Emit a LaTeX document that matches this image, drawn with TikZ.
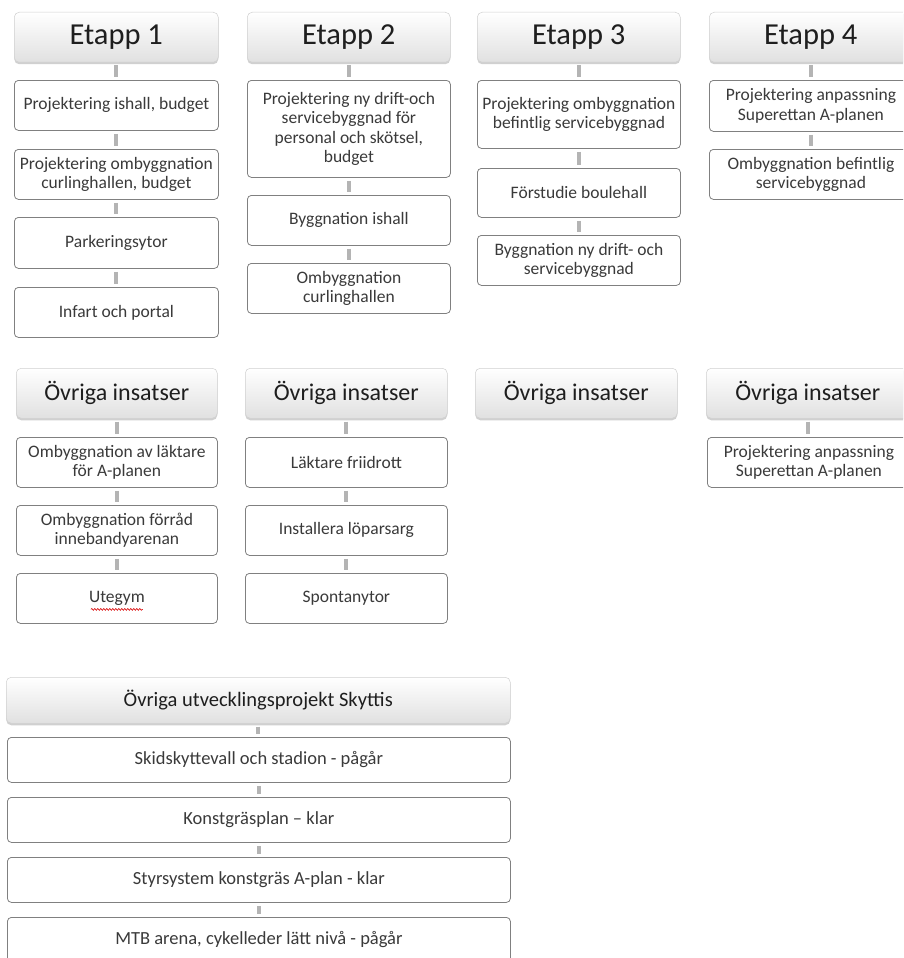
\documentclass[tikz,border=0pt]{standalone}
\usepackage{fontspec}
\setmainfont{Carlito}
\usetikzlibrary{shadows,decorations.pathmorphing}
\definecolor{boxline}{HTML}{808080}
\definecolor{hdrline}{HTML}{D0D0D0}
\definecolor{txt}{HTML}{3A3A3A}
\definecolor{hdrtxt}{HTML}{1E1E1E}
\definecolor{connc}{HTML}{B4B4B4}
\tikzset{
  hdr/.style={anchor=north west, rounded corners=5pt, draw=hdrline, line width=0.5pt,
    top color=white, bottom color=black!12, text=hdrtxt, inner sep=0pt,
    drop shadow={shadow xshift=0pt, shadow yshift=-2pt, opacity=0.3, fill=black!60}},
  bigh/.style={hdr, font=\fontsize{30.5}{34}\selectfont},
  midh/.style={hdr, font=\fontsize{24}{28}\selectfont},
  longh/.style={hdr, font=\fontsize{20.5}{24}\selectfont},
  itembox/.style={anchor=north west, rounded corners=4pt, draw=boxline, line width=0.8pt,
    fill=white, text=txt, align=center, inner sep=0pt, font=\fontsize{17.5}{19.5}\selectfont},
  wideitem/.style={itembox, font=\fontsize{18.5}{21}\selectfont},
  conn/.style={draw=connc, line width=4pt},
  spell/.style={draw=red!85!black, line width=0.6pt, decorate,
    decoration={snake, amplitude=0.9pt, segment length=3pt}}
}
\begin{document}
\begin{tikzpicture}[x=1pt, y=-1pt]
\useasboundingbox (0,0) rectangle (903,958);
\fill[white] (0,0) rectangle (903,958);
\clip (0,0) rectangle (903,958);

% ---- Row 1 ----
% Column 1
\node[bigh, minimum width=204pt, minimum height=50pt] (e1) at (14,12) {Etapp 1};
\node[itembox, minimum width=204pt, minimum height=50pt] (a1) at (14,80) {Projektering ishall, budget};
\node[itembox, minimum width=204pt, minimum height=50pt] (a2) at (14,149) {Projektering ombyggnation\\curlinghallen, budget};
\node[itembox, minimum width=204pt, minimum height=51pt] (a3) at (14,217) {Parkeringsytor};
\node[itembox, minimum width=204pt, minimum height=50pt] (a4) at (14,287) {Infart och portal};
% Column 2
\node[bigh, minimum width=203pt, minimum height=50pt] (e2) at (247,12) {Etapp 2};
\node[itembox, minimum width=203pt, minimum height=97pt] (b1) at (247,80) {Projektering ny drift-och\\servicebyggnad för\\personal och skötsel,\\budget};
\node[itembox, minimum width=203pt, minimum height=50pt] (b2) at (247,195) {Byggnation ishall};
\node[itembox, minimum width=203pt, minimum height=50pt] (b3) at (247,263) {Ombyggnation\\curlinghallen};
% Column 3
\node[bigh, minimum width=203pt, minimum height=50pt] (e3) at (477,12) {Etapp 3};
\node[itembox, minimum width=203pt, minimum height=68pt] (c1) at (477,80) {Projektering ombyggnation\\befintlig servicebyggnad};
\node[itembox, minimum width=203pt, minimum height=49pt] (c2) at (477,168) {Förstudie boulehall};
\node[itembox, minimum width=203pt, minimum height=50pt] (c3) at (477,235) {Byggnation ny drift- och\\servicebyggnad};
% Column 4
\node[bigh, minimum width=203pt, minimum height=50pt] (e4) at (709,12) {Etapp 4};
\node[itembox, minimum width=203pt, minimum height=51pt] (d1) at (709,80) {Projektering anpassning\\Superettan A-planen};
\node[itembox, minimum width=203pt, minimum height=50pt] (d2) at (709,149) {Ombyggnation befintlig\\servicebyggnad};

% ---- Row 2 ----
\node[midh, minimum width=201pt, minimum height=50pt] (o1) at (16,368) {Övriga insatser};
\node[itembox, minimum width=201pt, minimum height=50pt] (p1) at (16,437) {Ombyggnation av läktare\\för A-planen};
\node[itembox, minimum width=201pt, minimum height=50pt] (p2) at (16,505) {Ombyggnation förråd\\innebandyarenan};
\node[itembox, minimum width=201pt, minimum height=50pt] (p3) at (16,573) {Utegym};

\node[midh, minimum width=202pt, minimum height=50pt] (o2) at (245,368) {Övriga insatser};
\node[itembox, minimum width=202pt, minimum height=50pt] (q1) at (245,437) {Läktare friidrott};
\node[itembox, minimum width=202pt, minimum height=50pt] (q2) at (245,505) {Installera löparsarg};
\node[itembox, minimum width=202pt, minimum height=50pt] (q3) at (245,573) {Spontanytor};

\node[midh, minimum width=202pt, minimum height=50pt] (o3) at (475,368) {Övriga insatser};

\node[midh, minimum width=203pt, minimum height=50pt] (o4) at (706,368) {Övriga insatser};
\node[itembox, minimum width=203pt, minimum height=50pt] (r1) at (707,437) {Projektering anpassning\\Superettan A-planen};

% ---- Row 3 ----
\node[longh, minimum width=504pt, minimum height=46pt] (s0) at (6,677) {Övriga utvecklingsprojekt Skyttis};
\node[wideitem, minimum width=503pt, minimum height=45pt] (s1) at (7,737) {Skidskyttevall och stadion - pågår};
\node[wideitem, minimum width=503pt, minimum height=45pt] (s2) at (7,797) {Konstgräsplan – klar};
\node[wideitem, minimum width=503pt, minimum height=45pt] (s3) at (7,857) {Styrsystem konstgräs A-plan - klar};
\node[wideitem, minimum width=503pt, minimum height=45pt] (s4) at (7,917) {MTB arena, cykelleder lätt nivå - pågår};

% ---- Connectors ----
\foreach \u/\v in {e1/a1,a1/a2,a2/a3,a3/a4,e2/b1,b1/b2,b2/b3,e3/c1,c1/c2,c2/c3,e4/d1,d1/d2,
  o1/p1,p1/p2,p2/p3,o2/q1,q1/q2,q2/q3,o4/r1,s0/s1,s1/s2,s2/s3,s3/s4}
  \draw[conn] ([yshift=-3pt]\u.south) -- ([yshift=3pt]\u.south |- \v.north);

% spell-check underline under "Utegym"
\coordinate (sp1) at ([xshift=-26pt,yshift=-11pt]p3.center);
\coordinate (sp2) at ([xshift=26pt,yshift=-11pt]p3.center);
\draw[spell] (sp1) -- (sp2);
\end{tikzpicture}
\end{document}
